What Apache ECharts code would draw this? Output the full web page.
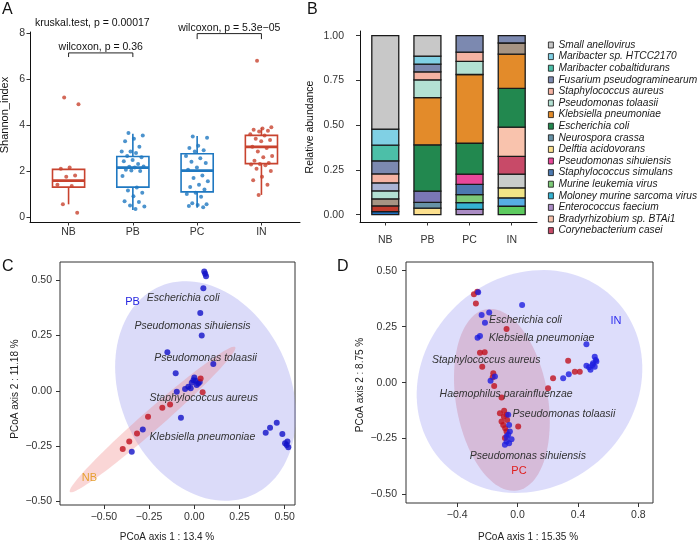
<!DOCTYPE html>
<html><head><meta charset="utf-8">
<script src="https://cdn.jsdelivr.net/npm/echarts@6/dist/echarts.min.js"></script>
<style>html,body{margin:0;padding:0;background:#fff}#c{width:700px;height:541px}</style>
</head><body><div id="c"></div>
<script>
// ---------- Panel A: Shannon index ----------
const groupsA = ['NB','PB','PC','IN'];
const shannonNB = [5.2, 4.9, 2.15, 2.1, 1.8, 1.75, 1.4, 1.35, 0.55, 0.18];
const shannonPB = [3.65, 3.55, 3.4, 3.3, 3.05, 2.85, 2.85, 2.78, 2.65, 2.6, 2.48, 2.42, 2.3, 2.18, 2.2, 2.15, 2.05, 2.0, 2.02, 1.78, 1.28, 1.15, 1.05, 0.9, 0.68, 0.65, 0.5, 0.45, 0.35];
const shannonPC = [3.5, 3.45, 3.1, 3.0, 2.9, 2.85, 2.65, 2.55, 2.4, 2.35, 2.15, 2.05, 1.8, 1.7, 1.55, 1.4, 1.3, 1.2, 1.05, 1.0, 0.88, 0.6, 0.55, 0.52, 0.48, 0.42];
const shannonIN = [6.8, 3.9, 3.85, 3.8, 3.75, 3.72, 3.6, 3.55, 3.4, 3.35, 3.3, 3.05, 3.0, 2.85, 2.65, 2.6, 2.45, 2.35, 2.3, 2.28, 2.25, 2.1, 2.0, 1.75, 1.6, 1.4, 0.95];
// box stats: [whiskerLow, Q1, median, Q3, whiskerHigh]
const boxNB = [0.55, 1.30, 1.58, 2.07, 2.10];
const boxPB = [0.30, 1.30, 2.15, 2.63, 3.62];
const boxPC = [0.40, 1.09, 2.02, 2.75, 3.52];
const boxIN = [0.96, 2.32, 3.05, 3.55, 3.88];
const colorsA = ['#C8432F', '#1F78C1', '#1F78C1', '#C8432F'];
const ticksA_y = [0, 2, 4, 6, 8];

// ---------- Panel B: relative abundance (stack order bottom -> top) ----------
const samplesB = ['NB','PB','PC','IN'];
const stackNames = ['Enterococcus faecium','Moloney murine sarcoma virus','Murine leukemia virus','Staphylococcus simulans','Pseudomonas sihuiensis',
  'Other taxon 1','Other taxon 2','Other taxon 3','Other taxon 4','Corynebacterium casei','Bradyrhizobium sp. BTAi1','Delftia acidovorans','Neurospora crassa',
  'Other taxon 5','Other taxon 6','Other taxon 7','Escherichia coli','Klebsiella pneumoniae','Other taxon 8','Pseudomonas tolaasii','Other taxon 9',
  'Staphylococcus aureus','Fusarium pseudograminearum','Maribacter cobaltidurans','Maribacter sp. HTCC2170','Small anellovirus'];
const stackColors = ['#AA8CC4','#35B3D2','#7DCB78','#4C79B0','#E8489A',
  '#5DCB5F','#57ADE4','#F0E487','#C9CCCB','#C84A68','#F9C3AD','#FCE08E','#6792A6',
  '#7B77B6','#1E6EBE','#C23B2C','#22884F','#E38B2A','#A69483','#B3E1D3','#A9B3D4',
  '#F5B3A3','#7C89B0','#4CBFA8','#80D0E4','#C8C8C8'];
const abundNB = [0,0,0,0,0, 0,0,0,0, 0,0,0,0, 0,0.017,0.032, 0,0, 0.039,0.045,0.045, 0.050,0.073,0.087,0.090,0.522];
const abundPB = [0,0,0,0,0, 0,0,0,0, 0,0,0.036,0.033, 0.062,0,0, 0.259,0.264, 0,0.099,0, 0.045,0.043,0,0.045,0.114];
const abundPC = [0.030,0.037,0.045,0.057,0.058, 0,0,0,0, 0,0,0,0, 0,0,0, 0.172,0.384, 0,0.073,0, 0.052,0.092,0,0,0];
const abundIN = [0,0,0,0,0, 0.047,0.047,0.056,0.077, 0.099,0.163,0,0, 0,0,0, 0.217,0.191, 0.062,0,0, 0,0.041,0,0,0];
const legendNames = ['Small anellovirus','Maribacter sp. HTCC2170','Maribacter cobaltidurans','Fusarium pseudograminearum','Staphylococcus aureus',
  'Pseudomonas tolaasii','Klebsiella pneumoniae','Escherichia coli','Neurospora crassa','Delftia acidovorans','Pseudomonas sihuiensis',
  'Staphylococcus simulans','Murine leukemia virus','Moloney murine sarcoma virus','Enterococcus faecium','Bradyrhizobium sp. BTAi1','Corynebacterium casei'];
const ticksB_y = [0, 0.25, 0.5, 0.75, 1];

// ---------- Panel C: PCoA (PB vs NB) ----------
const pcoaC_PB = [[0.055,0.540],[0.060,0.530],[0.065,0.518],[0.050,0.464],[0.033,0.352],[0.041,0.250],[-0.149,0.175],[0.105,0.121],[-0.103,0.079],
  [0.000,0.060],[0.008,0.045],[-0.014,0.036],[0.022,0.033],[-0.033,0.018],[-0.051,0.008],[0.013,0.026],[-0.005,0.048],[-0.020,0.012],[0.030,0.040],
  [-0.097,-0.004],[-0.074,-0.122],[-0.285,-0.175],[-0.346,-0.276],[0.456,-0.145],[0.419,-0.167],[0.395,-0.190],[0.487,-0.196],
  [0.502,-0.238],[0.515,-0.230],[0.511,-0.245],[0.520,-0.256]];
const pcoaC_NB = [[0.035,0.056],[0.046,-0.007],[-0.134,-0.062],[-0.177,-0.077],[-0.256,-0.117],[-0.317,-0.193],[-0.360,-0.230],[-0.396,-0.263]];
// ellipse: [centerX, centerY, u_x, u_y, v_x, v_y]
const ellipseC_PB = [0.062, -0.001, 0.500, -0.109, 0.0, -0.485];
const ellipseC_NB = [-0.231, -0.130, 0.457, 0.328, 0.036, -0.034];
const labelsC = ['Escherichia coli','Pseudomonas sihuiensis','Pseudomonas tolaasii','Staphylococcus aureus','Klebsiella pneumoniae'];
const labelPosC = [[-0.062,0.420],[-0.010,0.292],[0.062,0.148],[0.052,-0.031],[0.045,-0.209]];
const ticksC_x = [-0.5,-0.25,0,0.25,0.5];
const ticksC_y = [-0.5,-0.25,0,0.25,0.5];

// ---------- Panel D: PCoA (IN vs PC) ----------
const pcoaD_PC = [[-0.289,0.395],[-0.267,0.406],[-0.276,0.354],[-0.073,0.240],[-0.249,0.134],[-0.218,0.136],[-0.234,0.071],[-0.161,0.042],
  [-0.165,0.024],[-0.155,-0.015],[-0.106,-0.067],[-0.117,-0.137],[-0.089,-0.126],[-0.073,-0.144],[-0.106,-0.174],[-0.095,-0.189],[-0.082,-0.204],
  [-0.073,-0.219],[-0.084,-0.248],[0.004,-0.196],[0.202,-0.025],[0.235,0.020],[0.335,0.098],[0.379,0.049],[0.412,0.049],[-0.091,-0.152],[-0.069,-0.167]];
const pcoaD_IN = [[-0.261,0.404],[-0.238,0.302],[-0.188,0.313],[-0.216,0.268],[-0.265,0.201],[-0.249,0.208],[-0.179,0.008],[-0.150,0.027],[0.030,0.347],
  [-0.062,-0.144],[-0.056,-0.189],[-0.051,-0.219],[-0.062,-0.233],[-0.073,-0.263],[-0.084,-0.278],[-0.056,-0.271],[-0.040,-0.253],[-0.073,-0.241],
  [0.456,0.171],[0.302,0.020],[0.339,0.037],[0.456,0.075],[0.474,0.069],[0.483,0.057],[0.511,0.116],[0.518,0.101],[0.522,0.094],[0.500,0.087],[0.511,0.071],[0.496,0.079]];
const ellipseD_IN = [0.079, 0.005, 0.747, 0.045, -0.020, -0.496];
const ellipseD_PC = [-0.104, -0.077, -0.103, 0.405, 0.300, 0.035];
const labelsD = ['Escherichia coli','Klebsiella pneumoniae','Staphylococcus aureus','Haemophilus parainfluenzae','Pseudomonas tolaasii','Pseudomonas sihuiensis'];
const labelPosD = [[0.052,0.280],[0.159,0.198],[-0.208,0.101],[-0.076,-0.052],[0.307,-0.140],[0.068,-0.330]];
const ticksD_x = [-0.4,0,0.4,0.8];
const ticksD_y = [-0.5,-0.25,0,0.25,0.5];

// ---------- helpers ----------
const FONT = 'Liberation Sans, Arial, sans-serif';
const minus = s => String(s).replace('-', '\u2212');
function jitter(k){ return (((k * 0.618034 + 0.31) % 1) - 0.5) * 0.36; }

function renderBox(params, api){
  const x = api.value(0);
  const pLo = api.coord([x, api.value(1)]), pQ1 = api.coord([x, api.value(2)]), pMd = api.coord([x, api.value(3)]);
  const pQ3 = api.coord([x, api.value(4)]), pHi = api.coord([x, api.value(5)]);
  const half = api.size([0.25, 0])[0];
  const col = colorsA[params.dataIndex];
  return {type:'group', children:[
    {type:'line', shape:{x1:pLo[0],y1:pLo[1],x2:pQ1[0],y2:pQ1[1]}, style:{stroke:col,lineWidth:1.6}},
    {type:'line', shape:{x1:pQ3[0],y1:pQ3[1],x2:pHi[0],y2:pHi[1]}, style:{stroke:col,lineWidth:1.6}},
    {type:'rect', shape:{x:pQ1[0]-half,y:pQ3[1],width:2*half,height:pQ1[1]-pQ3[1]}, style:{fill:'none',stroke:col,lineWidth:1.6}},
    {type:'line', shape:{x1:pMd[0]-half,y1:pMd[1],x2:pMd[0]+half,y2:pMd[1]}, style:{stroke:col,lineWidth:2.8}}
  ]};
}
function ellipseSeries(spec, fill, xi){
  return {type:'custom', xAxisIndex:xi, yAxisIndex:xi, z:1, silent:true, data:[spec],
    renderItem:function(params, api){
      const cx=api.value(0), cy=api.value(1), ux=api.value(2), uy=api.value(3), vx=api.value(4), vy=api.value(5);
      const pts=[];
      for(let k=0;k<120;k++){const t=2*Math.PI*k/120; pts.push(api.coord([cx+ux*Math.cos(t)+vx*Math.sin(t), cy+uy*Math.cos(t)+vy*Math.sin(t)]));}
      return {type:'polygon', shape:{points:pts}, style:{fill:fill, stroke:'none'}};
    }};
}
function textSeries(positions, texts, xi, opts){
  return {type:'custom', xAxisIndex:xi, yAxisIndex:xi, z:5, silent:true, data:positions,
    renderItem:function(params, api){
      const p = api.coord([api.value(0), api.value(1)]);
      const o = Array.isArray(opts) ? opts[params.dataIndex] : opts;
      return {type:'text', x:p[0], y:p[1], style:{text:texts[params.dataIndex], fontSize:o.size||10.5, fontFamily:FONT,
        fontStyle:o.italic?'italic':'normal', fill:o.color||'#333', align:'center', verticalAlign:'middle'}};
    }};
}
function valAxis(gi, min, max, ticks, fmt, margin, line, tickLen){
  return {gridIndex:gi, type:'value', min:min, max:max, splitLine:{show:false},
    axisLine:{show:line, onZero:false, lineStyle:{color:'#111', width:1}},
    axisTick:{show:true, length:tickLen, customValues:ticks, lineStyle:{color:'#333', width:1}},
    axisLabel:{customValues:ticks, formatter:fmt, margin:margin, fontSize:10.5, color:'#333', fontFamily:FONT}};
}

// ---------- series ----------
const series = [];
const boxes = [boxNB, boxPB, boxPC, boxIN];
series.push({type:'custom', xAxisIndex:0, yAxisIndex:0, z:2, data: boxes.map((b,i)=>[i+1].concat(b)), renderItem:renderBox});
[shannonNB, shannonPB, shannonPC, shannonIN].forEach((vals, i)=>{
  series.push({type:'scatter', xAxisIndex:0, yAxisIndex:0, z:3, symbolSize:4, itemStyle:{color:colorsA[i]},
    data: vals.map((v,k)=>[i+1+jitter(k), v])});
});
series.push({type:'line', xAxisIndex:0, yAxisIndex:0, showSymbol:false, symbol:'none', lineStyle:{color:'#222', width:1},
  data:[[1,6.96],[1,7.14],[2,7.14],[2,6.96]]});
series.push({type:'line', xAxisIndex:0, yAxisIndex:0, showSymbol:false, symbol:'none', lineStyle:{color:'#222', width:1},
  data:[[3,7.74],[3,7.98],[4,7.98],[4,7.74]]});
series.push(textSeries([[1.5,7.39],[3.5,8.22]], ['wilcoxon, p = 0.36','wilcoxon, p = 5.3e\u221205'], 0, {size:10.5, color:'#111'}));

// stacked bars (one custom series per taxon, cumulative from the abundance arrays)
const abundBySample = [abundNB, abundPB, abundPC, abundIN];
const cumBase = abundBySample.map(()=>0);
stackNames.forEach((nm, k)=>{
  const segs = [];
  abundBySample.forEach((arr, i)=>{
    if (arr[k] > 0) { segs.push([i+1, cumBase[i], cumBase[i] + arr[k]]); cumBase[i] += arr[k]; }
  });
  series.push({type:'custom', name:nm, xAxisIndex:1, yAxisIndex:1, z:2,
    itemStyle:{color:stackColors[k], borderColor:'#1a1a1a', borderWidth:1},
    data:segs,
    renderItem:function(params, api){
      const x = api.value(0);
      const pTop = api.coord([x, api.value(2)]), pBot = api.coord([x, api.value(1)]);
      const half = api.size([0.32, 0])[0];
      return {type:'rect', shape:{x:pTop[0]-half, y:pTop[1], width:2*half, height:pBot[1]-pTop[1]},
        style:{fill:stackColors[k], stroke:'#1a1a1a', lineWidth:1.3}};
    }});
});

series.push(ellipseSeries(ellipseC_PB, 'rgba(160,160,240,0.38)', 2));
series.push(ellipseSeries(ellipseC_NB, 'rgba(240,120,120,0.30)', 2));
series.push({type:'scatter', xAxisIndex:2, yAxisIndex:2, z:3, symbolSize:6, itemStyle:{color:'#1212C8'}, data:pcoaC_PB});
series.push({type:'scatter', xAxisIndex:2, yAxisIndex:2, z:3, symbolSize:6, itemStyle:{color:'#C0121E'}, data:pcoaC_NB});
series.push(textSeries(labelPosC, labelsC, 2, {size:10.5, italic:true, color:'#333'}));
series.push(textSeries([[-0.342,0.400],[-0.580,-0.394]], ['PB','NB'], 2, [{size:11, color:'#2424E0'},{size:11, color:'#E6A030'}]));

series.push(ellipseSeries(ellipseD_IN, 'rgba(160,160,245,0.36)', 3));
series.push(ellipseSeries(ellipseD_PC, 'rgba(200,110,140,0.30)', 3));
series.push({type:'scatter', xAxisIndex:3, yAxisIndex:3, z:3, symbolSize:6, itemStyle:{color:'#C0121E'}, data:pcoaD_PC});
series.push({type:'scatter', xAxisIndex:3, yAxisIndex:3, z:3, symbolSize:6, itemStyle:{color:'#1E1EE0'}, data:pcoaD_IN});
series.push(textSeries(labelPosD, labelsD, 3, {size:10.5, italic:true, color:'#333'}));
series.push(textSeries([[0.652,0.275],[0.009,-0.393]], ['IN','PC'], 3, [{size:11, color:'#3030EE'},{size:11, color:'#E0201E'}]));

const fmt2 = v => minus(v.toFixed(2));
const option = {
  animation:false,
  textStyle:{fontFamily:FONT},
  grid:[
    {left:30, top:32, width:270, height:190},
    {left:360, top:31, width:177, height:191},
    {left:60, top:262, width:235, height:243, show:true, borderColor:'#333', borderWidth:1, backgroundColor:'transparent'},
    {left:406, top:262, width:247, height:241, show:true, borderColor:'#333', borderWidth:1, backgroundColor:'transparent'}
  ],
  xAxis:[
    valAxis(0, 0.4, 4.6, [1,2,3,4], v=>groupsA[Math.round(v)-1], 5, true, 3.5),
    valAxis(1, 0.4, 4.6, [1,2,3,4], v=>samplesB[Math.round(v)-1], 13, true, 3.5),
    valAxis(2, -0.743, 0.557, ticksC_x, fmt2, 7, false, 4),
    valAxis(3, -0.739, 0.897, ticksD_x, v=>minus(v.toFixed(1)), 7, false, 4)
  ],
  yAxis:[
    valAxis(0, -0.22, 8.05, ticksA_y, v=>String(v), 5, true, 3.5),
    valAxis(1, -0.041, 1.026, ticksB_y, v=>v.toFixed(2), 16, true, 4),
    valAxis(2, -0.517, 0.583, ticksC_y, fmt2, 8, false, 4),
    valAxis(3, -0.538, 0.539, ticksD_y, fmt2, 9, false, 4)
  ],
  legend:{orient:'vertical', left:548, top:39.5, padding:0, itemGap:0.6, itemWidth:5, itemHeight:6, icon:'rect', selectedMode:false,
    data:legendNames, itemStyle:{borderColor:'#111', borderWidth:0.8},
    textStyle:{fontSize:10.2, lineHeight:11, fontStyle:'italic', color:'#1a1a1a', fontFamily:FONT}},
  graphic:[
    {type:'text', x:2, y:2, style:{text:'A', fontSize:16, fontFamily:FONT, fill:'#111'}},
    {type:'text', x:307, y:2, style:{text:'B', fontSize:16, fontFamily:FONT, fill:'#111'}},
    {type:'text', x:2, y:259, style:{text:'C', fontSize:16, fontFamily:FONT, fill:'#111'}},
    {type:'text', x:337, y:259, style:{text:'D', fontSize:16, fontFamily:FONT, fill:'#111'}},
    {type:'text', x:35, y:23, style:{text:'kruskal.test, p = 0.00017', fontSize:10.5, fontFamily:FONT, fill:'#111', verticalAlign:'middle'}},
    {type:'text', x:5, y:115, rotation:Math.PI/2, style:{text:'Shannon_index', fontSize:11, fontFamily:FONT, fill:'#111', align:'center', verticalAlign:'middle'}},
    {type:'text', x:310, y:127, rotation:Math.PI/2, style:{text:'Relative abundance', fontSize:10.5, fontFamily:FONT, fill:'#111', align:'center', verticalAlign:'middle'}},
    {type:'text', x:167, y:537, style:{text:'PCoA axis 1 : 13.4 %', fontSize:10, fontFamily:FONT, fill:'#222', align:'center', verticalAlign:'middle'}},
    {type:'text', x:15, y:389, rotation:Math.PI/2, style:{text:'PCoA axis 2 : 11.18 %', fontSize:10, fontFamily:FONT, fill:'#222', align:'center', verticalAlign:'middle'}},
    {type:'text', x:528, y:537, style:{text:'PCoA axis 1 : 15.35 %', fontSize:10, fontFamily:FONT, fill:'#222', align:'center', verticalAlign:'middle'}},
    {type:'text', x:360, y:385, rotation:Math.PI/2, style:{text:'PCoA axis 2 : 8.75 %', fontSize:10, fontFamily:FONT, fill:'#222', align:'center', verticalAlign:'middle'}}
  ],
  series:series
};
const chart = echarts.init(document.getElementById('c'));
chart.setOption(option);
</script></body></html>
